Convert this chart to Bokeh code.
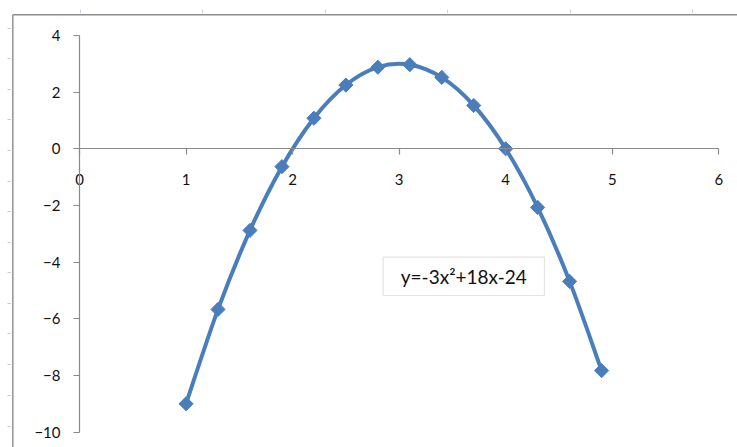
import math

from bokeh.embed import file_html
from bokeh.models import (BoxAnnotation, Label, LinearAxis, Range1d,
                          SingleIntervalTicker)
from bokeh.plotting import figure
from bokeh.resources import INLINE

# Sampled points of y = -3x^2 + 18x - 24
x_vals = [1.0, 1.3, 1.6, 1.9, 2.2, 2.5, 2.8, 3.1, 3.4, 3.7, 4.0, 4.3, 4.6, 4.9]
y_vals = [-9.0, -5.67, -2.88, -0.63, 1.08, 2.25, 2.88, 2.97, 2.52, 1.53, 0.0,
          -2.07, -4.68, -7.83]
equation = "y=-3x\u00b2+18x-24"

W, H = 737, 447
BLUE = "#4a7ebb"
AXIS_GRAY = "#8a8a8a"
FONT = "Lato"

# Plot-area geometry in pixels (axis origin and unit sizes)
X0_PX, PX_PER_X = 79.0, 106.55
Y0_PX, PX_PER_Y = 148.3, 28.33


def px_x(px):
    return (px - X0_PX) / PX_PER_X


def px_y(py):
    return (Y0_PX - py) / PX_PER_Y


p = figure(width=W, height=H, output_backend="svg", toolbar_location=None,
           x_axis_type=None, y_axis_type=None,
           x_range=Range1d(px_x(0), px_x(W)), y_range=Range1d(px_y(H), px_y(0)),
           min_border=0)
p.outline_line_color = None
p.xgrid.visible = False
p.ygrid.visible = False

# Axes crossing at the origin
xaxis = LinearAxis(fixed_location=0, bounds=(0, 6),
                   ticker=SingleIntervalTicker(interval=1))
yaxis = LinearAxis(fixed_location=0, bounds=(-10, 4),
                   ticker=SingleIntervalTicker(interval=2))
for ax in (xaxis, yaxis):
    ax.axis_line_color = AXIS_GRAY
    ax.axis_line_width = 1.2
    ax.major_tick_line_color = AXIS_GRAY
    ax.major_tick_line_width = 1.2
    ax.minor_tick_line_color = None
    ax.major_tick_in = 0
    ax.major_tick_out = 6
    ax.major_label_text_font = FONT
    ax.major_label_text_font_size = "15px"
    ax.major_label_text_color = "#111111"
xaxis.major_label_standoff = 19
yaxis.major_label_standoff = 13
p.add_layout(xaxis, "below")
p.add_layout(yaxis, "left")

# Chart-area border (left and top edges) with faint sheet tick marks
left_px, top_px = 12.3, 14.3
p.segment(x0=[px_x(left_px), px_x(left_px)], y0=[px_y(top_px), px_y(top_px)],
          x1=[px_x(left_px), px_x(W)], y1=[px_y(H), px_y(top_px)],
          line_color="#8c8c8c", line_width=1.4)
row_marks = [28, 58, 89, 119, 150, 181, 211, 242, 272, 303, 333, 364, 395, 426]
col_marks = [80, 202, 325, 447, 570, 692]
p.segment(x0=[px_x(7)] * len(row_marks), y0=[px_y(r) for r in row_marks],
          x1=[px_x(10.5)] * len(row_marks), y1=[px_y(r) for r in row_marks],
          line_color="#c5cfe3", line_width=1)
p.segment(x0=[px_x(c) for c in col_marks], y0=[px_y(9)] * len(col_marks),
          x1=[px_x(c) for c in col_marks], y1=[px_y(12.5)] * len(col_marks),
          line_color="#c5cfe3", line_width=1)

# Smoothed curve through the points (Catmull-Rom as cubic Bezier pieces)
n = len(x_vals)
bx0, by0, bx1, by1, cx0, cy0, cx1, cy1 = ([] for _ in range(8))
for i in range(n - 1):
    ip, inn = max(i - 1, 0), min(i + 2, n - 1)
    bx0.append(x_vals[i]); by0.append(y_vals[i])
    bx1.append(x_vals[i + 1]); by1.append(y_vals[i + 1])
    cx0.append(x_vals[i] + (x_vals[i + 1] - x_vals[ip]) / 6)
    cy0.append(y_vals[i] + (y_vals[i + 1] - y_vals[ip]) / 6)
    cx1.append(x_vals[i + 1] - (x_vals[inn] - x_vals[i]) / 6)
    cy1.append(y_vals[i + 1] - (y_vals[inn] - y_vals[i]) / 6)
p.bezier(x0=bx0, y0=by0, x1=bx1, y1=by1, cx0=cx0, cy0=cy0, cx1=cx1, cy1=cy1,
         line_color=BLUE, line_width=4, line_cap="round")

p.scatter(x_vals, y_vals, marker="square", angle=math.pi / 4, size=10,
          fill_color=BLUE, line_color=BLUE, line_width=1)

# Equation box
box = BoxAnnotation(left=px_x(382.7), right=px_x(544), top=px_y(256.7),
                    bottom=px_y(295), fill_color="white", fill_alpha=1,
                    line_color="#a6a6a6", line_width=1.2)
p.add_layout(box)
p.add_layout(Label(x=px_x(463.3), y=px_y(276), text=equation,
                   text_align="center", text_baseline="middle",
                   text_font=FONT, text_font_size="19px",
                   text_color="#111111"))

open("out.html", "w").write(file_html(p, INLINE))
